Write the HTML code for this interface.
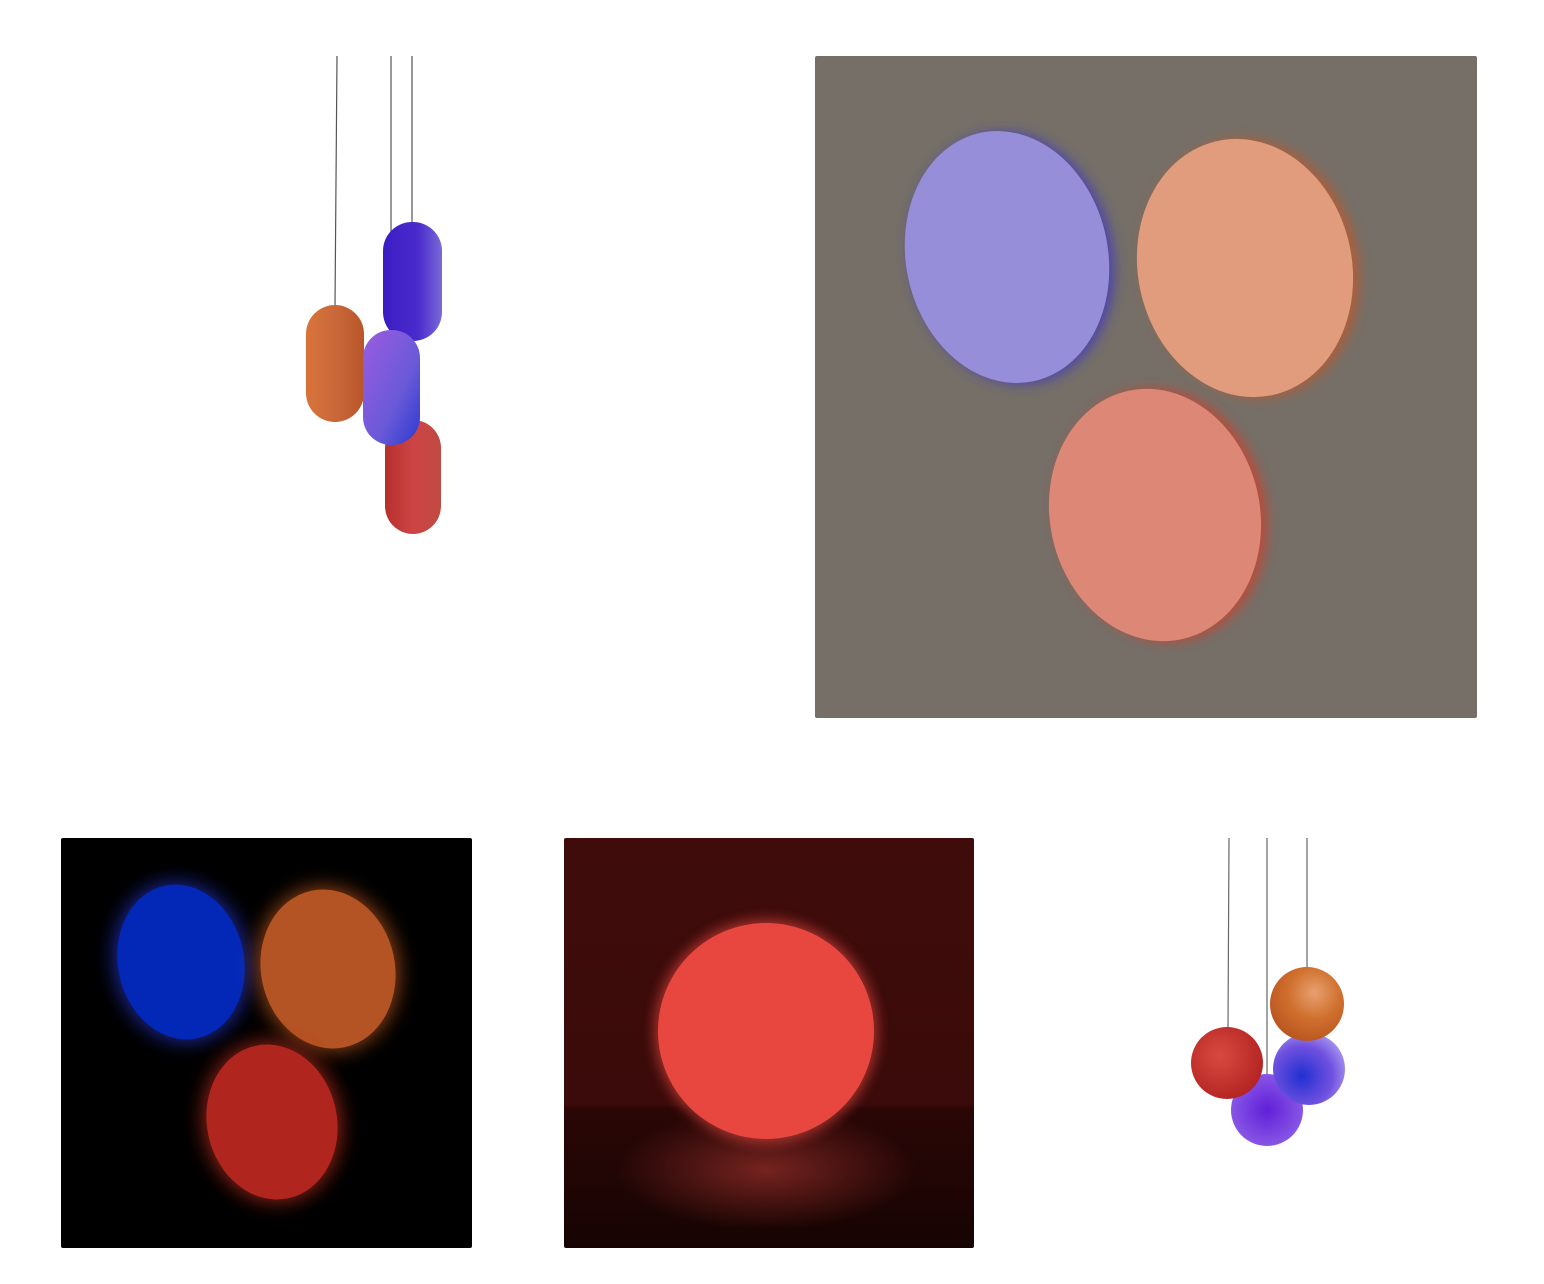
<!DOCTYPE html>
<html><head><meta charset="utf-8"><style>
html,body{margin:0;padding:0;background:#fff;width:1544px;height:1284px;overflow:hidden}
svg{display:block}
</style></head><body>
<svg width="1544" height="1284" viewBox="0 0 1544 1284">
<defs>
  <linearGradient id="gOr" x1="0" x2="1"><stop offset="0" stop-color="#d9733a"/><stop offset=".5" stop-color="#c9683a"/><stop offset="1" stop-color="#b8562a"/></linearGradient>
  <linearGradient id="gBl" x1="0" x2="1"><stop offset="0" stop-color="#3a1cc4"/><stop offset=".6" stop-color="#4a2ccc"/><stop offset="1" stop-color="#7a6ad8"/></linearGradient>
  <linearGradient id="gPu" x1="0" y1="0" x2="1" y2="1"><stop offset="0" stop-color="#9a5ce0"/><stop offset=".6" stop-color="#6a5ad8"/><stop offset="1" stop-color="#2a3ad0"/></linearGradient>
  <linearGradient id="gRe" x1="0" x2="1"><stop offset="0" stop-color="#b8302c"/><stop offset=".5" stop-color="#cc4444"/><stop offset="1" stop-color="#c04a42"/></linearGradient>
  <radialGradient id="sRe" cx=".4" cy=".4" r=".7"><stop offset="0" stop-color="#d84a40"/><stop offset="1" stop-color="#b02020"/></radialGradient>
  <radialGradient id="sOr" cx=".6" cy=".35" r=".7"><stop offset="0" stop-color="#e8a070"/><stop offset=".5" stop-color="#d0702e"/><stop offset="1" stop-color="#b85420"/></radialGradient>
  <radialGradient id="sBl" cx=".4" cy=".6" r=".7"><stop offset="0" stop-color="#2030d0"/><stop offset=".6" stop-color="#7050e0"/><stop offset="1" stop-color="#b0a0f0"/></radialGradient>
  <radialGradient id="sPu" cx=".5" cy=".5" r=".6"><stop offset="0" stop-color="#6020d8"/><stop offset="1" stop-color="#9060e8"/></radialGradient>
  <linearGradient id="bgRed" x1="0" y1="0" x2="0" y2="1"><stop offset="0" stop-color="#3f0c0b"/><stop offset=".65" stop-color="#3a0b0a"/><stop offset=".66" stop-color="#2a0706"/><stop offset="1" stop-color="#160403"/></linearGradient>
  <radialGradient id="floorGlow" cx=".5" cy=".5" r=".5"><stop offset="0" stop-color="#8a2a26" stop-opacity=".8"/><stop offset="1" stop-color="#8a2a26" stop-opacity="0"/></radialGradient>
  <filter id="glow" x="-30%" y="-30%" width="160%" height="160%"><feGaussianBlur stdDeviation="6"/></filter>
  <filter id="soft" x="-30%" y="-30%" width="160%" height="160%"><feGaussianBlur stdDeviation="10"/></filter>
</defs>

<!-- Top-left pendant capsules -->
<g>
  <line x1="337" y1="56" x2="335" y2="306" stroke="#555" stroke-width="1.2"/>
  <line x1="391" y1="56" x2="391" y2="330" stroke="#555" stroke-width="1.2"/>
  <line x1="412" y1="56" x2="412" y2="222" stroke="#555" stroke-width="1.2"/>
  <rect x="306" y="305" width="58" height="117" rx="29" fill="url(#gOr)"/>
  <rect x="385" y="420" width="56" height="114" rx="28" fill="url(#gRe)"/>
  <rect x="383" y="222" width="59" height="119" rx="29" fill="url(#gBl)"/>
  <rect x="363" y="330" width="57" height="115" rx="28" fill="url(#gPu)"/>
</g>

<!-- Top-right grey panel -->
<g>
  <rect x="815" y="56" width="662" height="662" rx="2" fill="#756f68"/>
  <ellipse cx="1012" cy="258" rx="101" ry="127" transform="rotate(-12 1012 258)" fill="#3a32c8" filter="url(#glow)" opacity=".7"/>
  <ellipse cx="1007" cy="257" rx="101" ry="127" transform="rotate(-12 1007 257)" fill="#968ed8"/>
  <ellipse cx="1251" cy="268" rx="107" ry="130" transform="rotate(-12 1251 268)" fill="#c0582a" filter="url(#glow)" opacity=".8"/>
  <ellipse cx="1245" cy="268" rx="107" ry="130" transform="rotate(-12 1245 268)" fill="#e09c7d"/>
  <ellipse cx="1161" cy="515" rx="105" ry="127" transform="rotate(-12 1161 515)" fill="#d0402c" filter="url(#glow)" opacity=".8"/>
  <ellipse cx="1155" cy="515" rx="105" ry="127" transform="rotate(-12 1155 515)" fill="#dd8876"/>
</g>

<!-- Bottom-left black panel -->
<g>
  <rect x="61" y="838" width="411" height="410" rx="2" fill="#000"/>
  <ellipse cx="181" cy="962" rx="66" ry="80" transform="rotate(-12 181 962)" fill="#2a3ae0" filter="url(#soft)" opacity=".7"/>
  <ellipse cx="181" cy="962" rx="63" ry="78" transform="rotate(-12 181 962)" fill="#0328b8"/>
  <ellipse cx="328" cy="969" rx="70" ry="82" transform="rotate(-12 328 969)" fill="#d06020" filter="url(#soft)" opacity=".7"/>
  <ellipse cx="328" cy="969" rx="67" ry="80" transform="rotate(-12 328 969)" fill="#b45324"/>
  <ellipse cx="272" cy="1122" rx="68" ry="80" transform="rotate(-12 272 1122)" fill="#d03020" filter="url(#soft)" opacity=".7"/>
  <ellipse cx="272" cy="1122" rx="65" ry="78" transform="rotate(-12 272 1122)" fill="#b0251d"/>
</g>

<!-- Bottom-middle red room -->
<g>
  <rect x="564" y="838" width="410" height="410" rx="2" fill="url(#bgRed)"/>
  <ellipse cx="766" cy="1170" rx="150" ry="60" fill="url(#floorGlow)"/>
  <circle cx="766" cy="1031" r="112" fill="#e8473f" filter="url(#glow)" opacity=".6"/>
  <circle cx="766" cy="1031" r="108" fill="#e8473f"/>
</g>

<!-- Bottom-right sphere pendants -->
<g>
  <line x1="1229" y1="838" x2="1228" y2="1028" stroke="#666" stroke-width="1.2"/>
  <line x1="1267" y1="838" x2="1267" y2="1075" stroke="#666" stroke-width="1.2"/>
  <line x1="1307" y1="838" x2="1307" y2="968" stroke="#666" stroke-width="1.2"/>
  <circle cx="1267" cy="1110" r="36" fill="url(#sPu)"/>
  <circle cx="1227" cy="1063" r="36" fill="url(#sRe)"/>
  <circle cx="1309" cy="1069" r="36" fill="url(#sBl)"/>
  <circle cx="1307" cy="1004" r="37" fill="url(#sOr)"/>
</g>
</svg>
</body></html>
